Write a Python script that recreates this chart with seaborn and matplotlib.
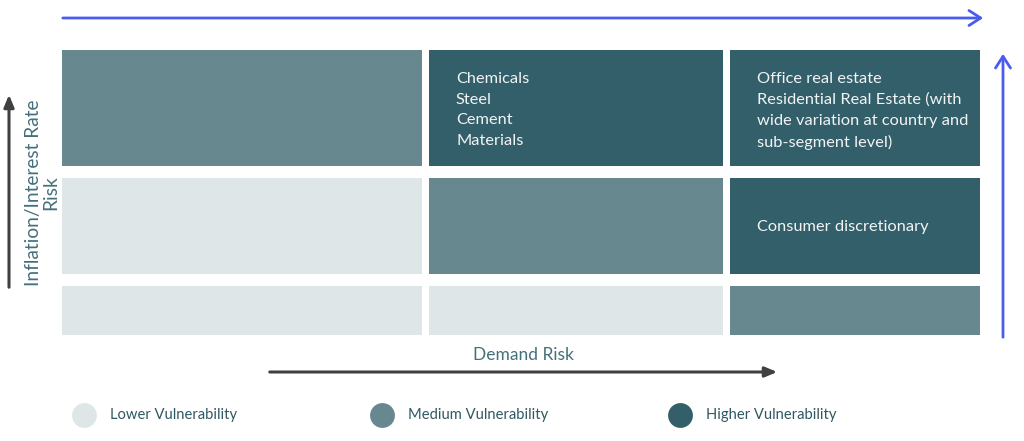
import matplotlib
matplotlib.use("Agg")
import matplotlib.pyplot as plt
from matplotlib.colors import ListedColormap
import seaborn as sns
import numpy as np

# ---- data ----
demand_levels = ["Low", "Medium", "High"]            # columns (x)
inflation_levels = ["High", "Medium", "Low"]         # rows (y, top to bottom)
vulnerability = [[1, 2, 2],
                 [0, 1, 2],
                 [0, 0, 1]]                          # 0 lower, 1 medium, 2 higher
cell_labels = [["", "Chemicals\nSteel\nCement\nMaterials",
                "Office real estate\nResidential Real Estate (with\nwide variation at country and\nsub-segment level)"],
               ["", "", "Consumer discretionary"],
               ["", "", ""]]
legend_labels = ["Lower Vulnerability", "Medium Vulnerability", "Higher Vulnerability"]
x_title = "Demand Risk"
y_title = "Inflation/Interest Rate\nRisk"

# ---- style ----
colors = ["#dfe6e8", "#68888f", "#325f6a"]
cmap = ListedColormap(colors)
W, H = 1024, 441
col_w = [360, 293, 250]
row_h = [116, 97, 49]

sns.set_theme(style="white")
plt.rcParams["font.family"] = ["Lato", "DejaVu Sans"]

fig = plt.figure(figsize=(W / 100, H / 100), dpi=100)
gs = fig.add_gridspec(3, 3, left=62 / W, right=980 / W, top=1 - 50 / H, bottom=1 - 335 / H,
                      width_ratios=col_w, height_ratios=row_h, wspace=0.0249, hspace=0.1317)

for i in range(3):
    for j in range(3):
        ax = fig.add_subplot(gs[i, j])
        sns.heatmap(np.array([[vulnerability[i][j]]]), ax=ax, cmap=cmap, vmin=-0.5, vmax=2.5,
                    cbar=False, xticklabels=False, yticklabels=False)
        ax.set_xlabel("")
        ax.set_ylabel("")

# overlay axes in pixel coordinates
ov = fig.add_axes([0, 0, 1, 1], zorder=10)
ov.set_xlim(0, W)
ov.set_ylim(H, 0)
ov.axis("off")
ov.patch.set_visible(False)

text_col = "#f2f4f4"
col_left = [62, 429, 730]
row_top = [50, 178, 286]
for i in range(3):
    for j in range(3):
        lab = cell_labels[i][j]
        if not lab:
            continue
        x = col_left[j] + 27
        if "\n" in lab:
            ov.text(x, row_top[i] + 22, lab, color=text_col, fontsize=11.8, va="top", ha="left",
                    linespacing=1.6)
        else:
            ov.text(x, row_top[i] + row_h[i] / 2 + 1, lab, color=text_col, fontsize=11.8,
                    va="center", ha="left")

# axis arrows
grey = "#404040"
ov.annotate("", xy=(780, 372), xytext=(267, 372),
            arrowprops=dict(arrowstyle="-|>,head_length=0.6,head_width=0.25", color=grey, lw=2.2))
ov.annotate("", xy=(9, 92), xytext=(9, 290),
            arrowprops=dict(arrowstyle="-|>,head_length=0.6,head_width=0.25", color=grey, lw=2.2))
ov.text(523, 355, x_title, color="#44707a", fontsize=12.5, ha="center", va="center")
ov.text(42, 193, y_title, color="#44707a", fontsize=13.8, ha="center", va="center", rotation=90,
        linespacing=1.05)

# blue arrows
blue = "#4a5cf0"
ov.annotate("", xy=(986, 18), xytext=(60, 18),
            arrowprops=dict(arrowstyle="->,head_length=0.7,head_width=0.45", color=blue, lw=2))
ov.annotate("", xy=(1003, 51), xytext=(1003, 340),
            arrowprops=dict(arrowstyle="->,head_length=0.7,head_width=0.45", color=blue, lw=2))

# legend
leg_x = [84, 382, 680]
for k in range(3):
    ov.scatter([leg_x[k]], [415], s=320, color=colors[k], zorder=5, linewidths=0)
    ov.text(leg_x[k] + 26, 415, legend_labels[k], color="#2f5862", fontsize=10.6,
            ha="left", va="center")

fig.savefig("out.png", dpi=100)
